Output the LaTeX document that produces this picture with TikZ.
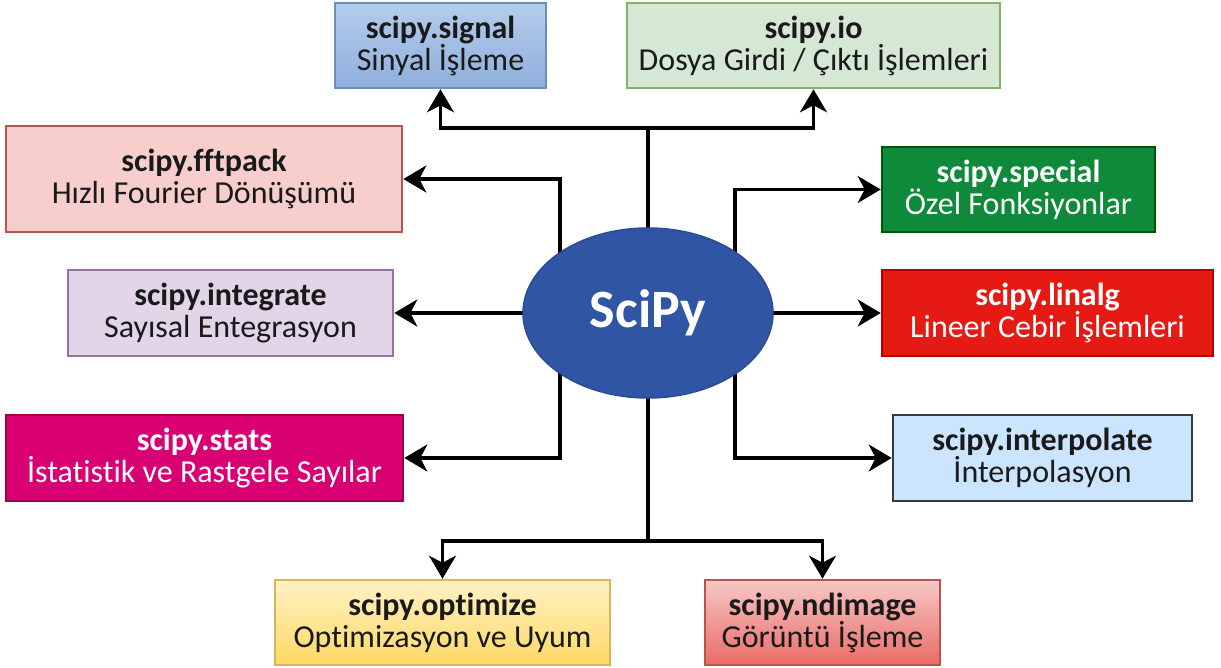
\documentclass[tikz,border=0pt]{standalone}
\usepackage{fontspec}
\setmainfont{Carlito}[Ligatures=NoCommon]
\usetikzlibrary{shapes.geometric,arrows.meta,backgrounds,calc}
\definecolor{txt}{HTML}{1A1A1A}
\definecolor{sigA}{HTML}{B5CCEC}\definecolor{sigB}{HTML}{8FAFDD}\definecolor{sigD}{HTML}{6C8EBF}
\definecolor{ioF}{HTML}{D5E8D4}\definecolor{ioD}{HTML}{82B366}
\definecolor{fftF}{HTML}{F8CECC}\definecolor{fftD}{HTML}{B85450}
\definecolor{spF}{HTML}{0E8A3A}\definecolor{spD}{HTML}{005700}
\definecolor{intF}{HTML}{E1D5E7}\definecolor{intD}{HTML}{9673A6}
\definecolor{linF}{HTML}{E51A14}\definecolor{linD}{HTML}{B20000}
\definecolor{stF}{HTML}{D80073}\definecolor{stD}{HTML}{A50040}
\definecolor{ipF}{HTML}{CCE5FF}\definecolor{ipD}{HTML}{36393D}
\definecolor{opA}{HTML}{FFF1C4}\definecolor{opB}{HTML}{FFD966}\definecolor{opD}{HTML}{D6B656}
\definecolor{ndA}{HTML}{F6C8C6}\definecolor{ndB}{HTML}{EA6B66}\definecolor{ndD}{HTML}{B85450}
\definecolor{ellF}{HTML}{2F55A4}\definecolor{ellD}{HTML}{2A4C96}
\begin{document}
\begin{tikzpicture}[x=1pt,y=-1pt,
  box/.style={draw, line width=2.6pt, rectangle, align=center, inner sep=0pt, text=txt,
    font=\fontsize{32}{32}\selectfont},
  wbox/.style={box, text=white},
  conn/.style={line width=3.2pt, draw=black},
  arr/.style={conn, -{Stealth[length=23pt,width=27pt,inset=7pt]}},
]
\useasboundingbox (0,0) rectangle (1221,668);
% boxes
\node[box, draw=sigD, top color=sigA, bottom color=sigB, minimum width=211pt, minimum height=85pt] (sig) at (440.5,45.5) {\textbf{scipy.signal}\\Sinyal İşleme};
\node[box, draw=ioD, fill=ioF, minimum width=373pt, minimum height=85pt] (io) at (813.5,45.5) {\textbf{scipy.io}\\Dosya Girdi / Çıktı İşlemleri};
\node[box, draw=fftD, fill=fftF, minimum width=396pt, minimum height=106pt] (fft) at (204,179) {\textbf{scipy.fftpack}\\Hızlı Fourier Dönüşümü};
\node[wbox, draw=spD, fill=spF, minimum width=273pt, minimum height=85pt] (spec) at (1018.5,189.5) {\textbf{scipy.special}\\Özel Fonksiyonlar};
\node[box, draw=intD, fill=intF, minimum width=325pt, minimum height=86pt] (int) at (230.5,313) {\textbf{scipy.integrate}\\Sayısal Entegrasyon};
\node[wbox, draw=linD, fill=linF, minimum width=331pt, minimum height=86pt] (lin) at (1047.5,313) {\textbf{scipy.linalg}\\Lineer Cebir İşlemleri};
\node[wbox, draw=stD, fill=stF, minimum width=397pt, minimum height=86pt] (stat) at (204.5,458) {\textbf{scipy.stats}\\İstatistik ve Rastgele Sayılar};
\node[box, draw=ipD, fill=ipF, minimum width=299pt, minimum height=86pt] (ip) at (1042.5,458) {\textbf{scipy.interpolate}\\İnterpolasyon};
\node[box, draw=opD, top color=opA, bottom color=opB, minimum width=335pt, minimum height=85pt] (opt) at (442.5,622.5) {\textbf{scipy.optimize}\\Optimizasyon ve Uyum};
\node[box, draw=ndD, top color=ndA, bottom color=ndB, minimum width=235pt, minimum height=85pt] (nd) at (822.5,622.5) {\textbf{scipy.ndimage}\\Görüntü İşleme};
% center
\node[ellipse, draw=ellD, line width=1.5pt, fill=ellF, minimum width=250pt, minimum height=170pt, inner sep=0pt,
  text=white, font=\fontsize{54}{58}\selectfont\bfseries] (c) at (648,313) {SciPy};
\coordinate (top) at (648,128);
\coordinate (bot) at (648,541);
% connectors
\begin{scope}[on background layer]
\draw[conn] (c.center) -- (top);
\draw[arr] (top) -| (sig.south);
\draw[arr] (top) -| (io.south);
\draw[conn] (c.center) -- (bot);
\draw[arr] (bot) -| (opt.north);
\draw[arr] (bot) -| (nd.north);
\draw[arr] ($(c.center)+(-88,0)$) |- (fft.east);
\draw[arr] ($(c.center)+(87,0)$) |- (spec.west);
\draw[arr] ($(c.center)+(-88,0)$) |- (stat.east);
\draw[arr] ($(c.center)+(87,0)$) |- (ip.west);
\draw[arr] (c.center) -- (int.east);
\draw[arr] (c.center) -- (lin.west);
\end{scope}
\end{tikzpicture}
\end{document}
